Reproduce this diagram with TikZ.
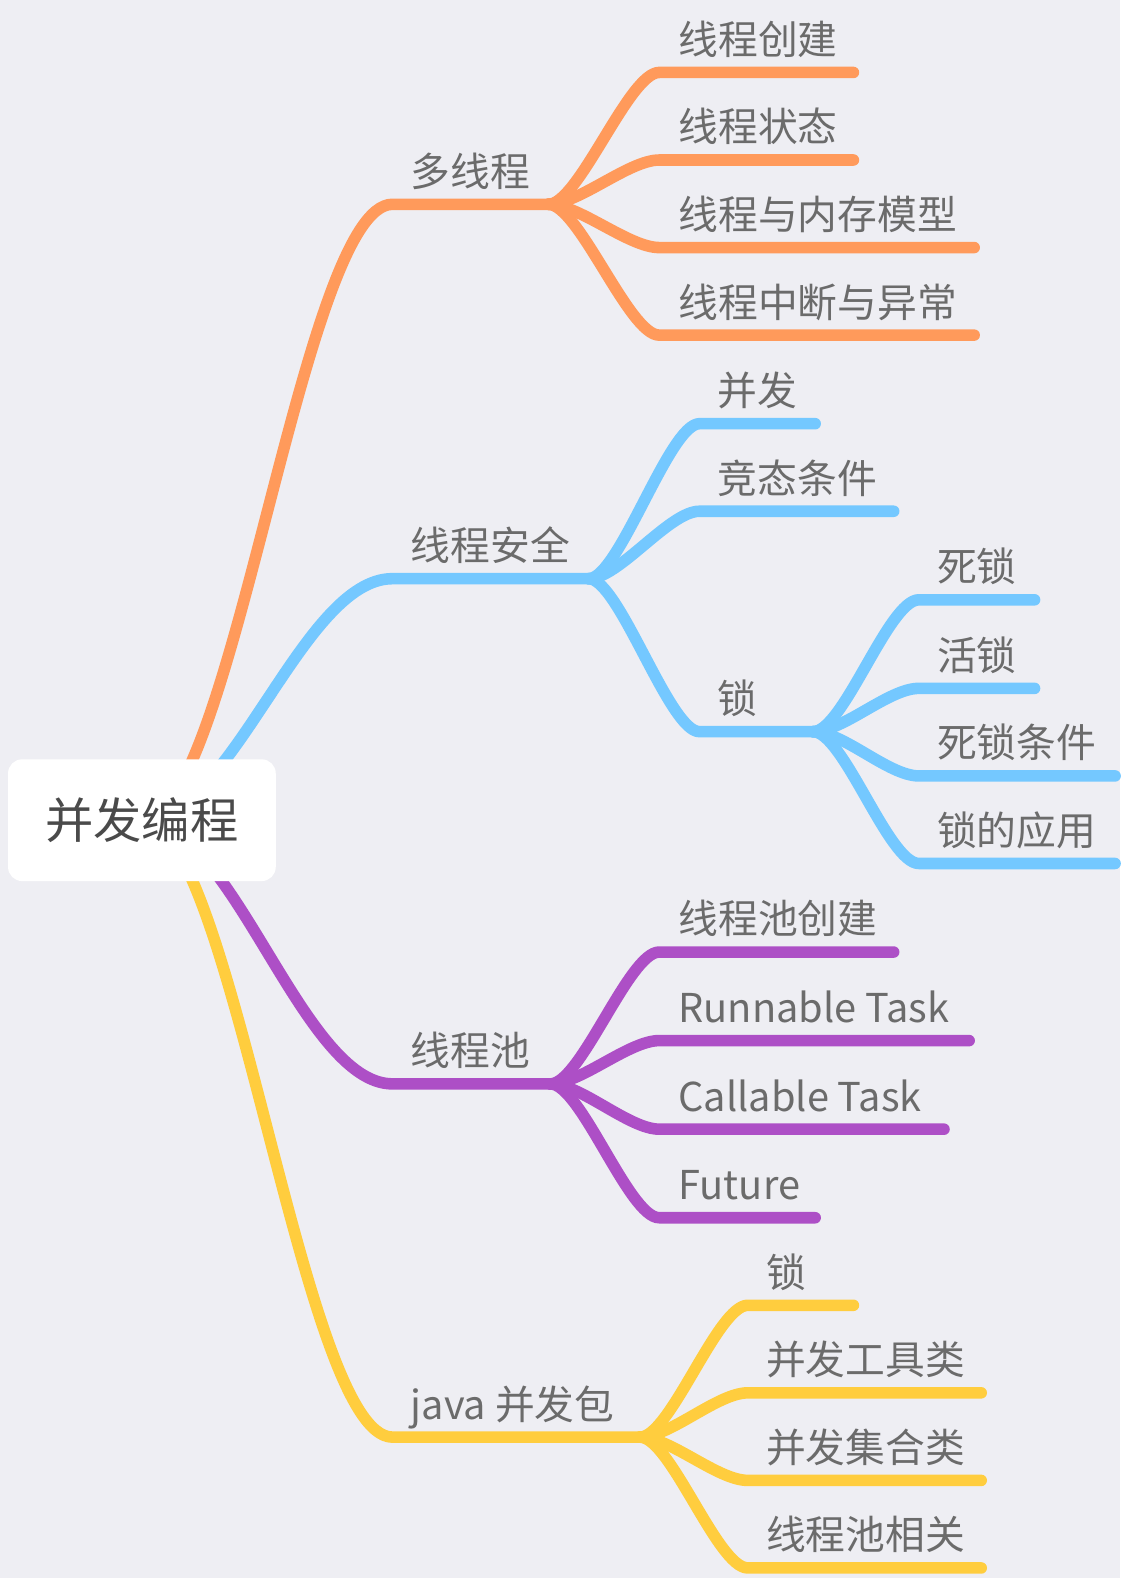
\documentclass[tikz,border=0pt]{standalone}
\usepackage{fontspec}
\setmainfont{Noto Sans CJK SC}
\usetikzlibrary{backgrounds}

\definecolor{bgc}{HTML}{EEEEF3}
\definecolor{txtgray}{HTML}{6B6B6B}
\definecolor{rootgray}{HTML}{4A4A4A}
\definecolor{orangeb}{HTML}{FF9A5B}
\definecolor{blueb}{HTML}{74C8FF}
\definecolor{purpleb}{HTML}{AD4FC6}
\definecolor{yellowb}{HTML}{FFCD3E}

\tikzset{
  branch/.style={line width=11.5pt, line cap=round, line join=round},
  lbl/.style={anchor=base west, inner sep=0pt, text=txtgray, font=\fontsize{39.5}{41}\selectfont},
  rootbox/.style={fill=white, rounded corners=14pt, minimum width=266pt, minimum height=121pt,
    text=rootgray, font=\fontsize{48}{50}\selectfont},
}

\begin{document}
\begin{tikzpicture}[x=1pt, y=-1pt]
  \useasboundingbox (0,0) rectangle (1113,1568);

  % Root
  \node[rootbox] (root) at (141,815) {并发编程};

  \begin{scope}[on background layer]
    \fill[bgc] (0,0) rectangle (1113,1568);

    % 多线程
    \coordinate (mt) at (390,203);
    \coordinate (mtF) at (545,203);
    \draw[branch, orangeb] (root.center) .. controls +(90,0) and +(-90,0) .. (mt) -- (mtF);
    \foreach \y/\e/\t [count=\i] in {72/848/线程创建, 159/848/线程状态, 246/968/线程与内存模型, 333/968/线程中断与异常} {
      \coordinate (mt\i) at (655,\y);
      \coordinate (mt\i-end) at (\e,\y);
      \draw[branch, orangeb] (mtF) .. controls +(30,0) and +(-30,0) .. (mt\i) -- (mt\i-end);
    }

    % 线程安全
    \coordinate (ts) at (390,575);
    \coordinate (tsF) at (585,575);
    \draw[branch, blueb] (root.center) .. controls +(90,0) and +(-90,0) .. (ts) -- (tsF);
    \foreach \y/\e [count=\i] in {421/810, 508/888, 727/808} {
      \coordinate (ts\i) at (695,\y);
      \coordinate (ts\i-end) at (\e,\y);
      \draw[branch, blueb] (tsF) .. controls +(30,0) and +(-30,0) .. (ts\i) -- (ts\i-end);
    }

    % 锁
    \foreach \y/\e [count=\i] in {596/1028, 684/1028, 771/1108, 858/1108} {
      \coordinate (lk\i) at (913,\y);
      \coordinate (lk\i-end) at (\e,\y);
      \draw[branch, blueb] (ts3-end) .. controls +(30,0) and +(-30,0) .. (lk\i) -- (lk\i-end);
    }

    % 线程池
    \coordinate (tp) at (390,1077);
    \coordinate (tpF) at (547,1077);
    \draw[branch, purpleb] (root.center) .. controls +(90,0) and +(-90,0) .. (tp) -- (tpF);
    \foreach \y/\e [count=\i] in {946/888, 1034/963, 1122/938, 1210/810} {
      \coordinate (tp\i) at (655,\y);
      \coordinate (tp\i-end) at (\e,\y);
      \draw[branch, purpleb] (tpF) .. controls +(30,0) and +(-30,0) .. (tp\i) -- (tp\i-end);
    }

    % java 并发包
    \coordinate (jc) at (390,1428);
    \coordinate (jcF) at (636,1428);
    \draw[branch, yellowb] (root.center) .. controls +(90,0) and +(-90,0) .. (jc) -- (jcF);
    \foreach \y/\e [count=\i] in {1297/848, 1384/975, 1471/975, 1558/975} {
      \coordinate (jc\i) at (743,\y);
      \coordinate (jc\i-end) at (\e,\y);
      \draw[branch, yellowb] (jcF) .. controls +(30,0) and +(-30,0) .. (jc\i) -- (jc\i-end);
    }
  \end{scope}

  % Labels
  \node[lbl] (mtT) at (408,185) {多线程};
  \node[lbl] (tsT) at (408,557) {线程安全};
  \node[lbl] (tpT) at (408,1059) {线程池};
  \node[lbl] (jcT) at (408,1410) {java 并发包};

  \foreach \y/\t [count=\i] in {72/线程创建, 159/线程状态, 246/线程与内存模型, 333/线程中断与异常}
    \node[lbl] (mt\i-t) at (674,\y-18) {\t};
  \foreach \y/\t [count=\i] in {421/并发, 508/竞态条件, 727/锁}
    \node[lbl] (ts\i-t) at (713,\y-18) {\t};
  \foreach \y/\t [count=\i] in {596/死锁, 684/活锁, 771/死锁条件, 858/锁的应用}
    \node[lbl] (lk\i-t) at (931,\y-18) {\t};
  \foreach \y/\t [count=\i] in {946/线程池创建, 1034/Runnable Task, 1122/Callable Task, 1210/Future}
    \node[lbl] (tp\i-t) at (674,\y-18) {\t};
  \foreach \y/\t [count=\i] in {1297/锁, 1384/并发工具类, 1471/并发集合类, 1558/线程池相关}
    \node[lbl] (jc\i-t) at (761,\y-18) {\t};
\end{tikzpicture}
\end{document}
